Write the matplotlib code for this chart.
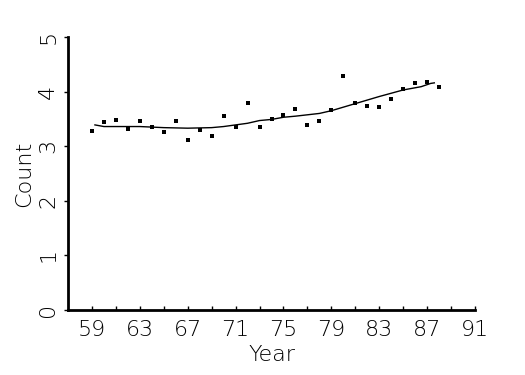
import matplotlib
matplotlib.use('Agg')
import matplotlib.pyplot as plt

# observed yearly counts
years = [59, 60, 61, 62, 63, 64, 65, 66, 67, 68, 69, 70, 71, 72, 73,
         74, 75, 76, 77, 78, 79, 80, 81, 82, 83, 84, 85, 86, 87, 88]
counts = [3.28, 3.44, 3.48, 3.31, 3.46, 3.35, 3.26, 3.46, 3.11, 3.30,
          3.19, 3.55, 3.35, 3.79, 3.35, 3.50, 3.57, 3.68, 3.39, 3.46,
          3.66, 4.29, 3.79, 3.74, 3.72, 3.86, 4.05, 4.16, 4.18, 4.08]

# smoothed trend line
fit_years = [59.25, 60, 63, 65, 67, 69, 70, 71, 72, 73, 74, 75, 76, 78,
             79, 81, 83, 85, 86.5, 87.3, 87.6]
fit_counts = [3.39, 3.36, 3.36, 3.34, 3.33, 3.34, 3.36, 3.39, 3.42, 3.47,
              3.49, 3.53, 3.55, 3.60, 3.65, 3.78, 3.91, 4.03, 4.09, 4.15, 4.16]

xticks = list(range(59, 92, 2))
xlabels = [str(t) if (t - 59) % 4 == 0 else '' for t in xticks]
yticks = [0, 1, 2, 3, 4, 5]

fig = plt.figure(figsize=(5.25, 3.75), dpi=100)
ax = fig.add_axes([68/525, 65/375, 407/525, 273/375])

ax.plot(fit_years, fit_counts, color='black', lw=1.0)
ax.plot(years, counts, 's', color='black', ms=2.6, mew=0)

ax.set_xlim(57, 91)
ax.set_ylim(0, 5)
ax.set_xticks(xticks)
ax.set_xticklabels(xlabels)
ax.set_yticks(yticks)
for s in ['top', 'right']:
    ax.spines[s].set_visible(False)
for s in ['left', 'bottom']:
    ax.spines[s].set_linewidth(2)

fs = 16
ax.tick_params(axis='x', direction='in', length=3, width=1, pad=7, labelsize=fs)
ax.tick_params(axis='y', direction='out', length=3, width=1, pad=4, labelsize=fs)
for lab in ax.get_yticklabels():
    lab.set_rotation(90)
    lab.set_va('center')
for lab in ax.get_xticklabels() + ax.get_yticklabels():
    lab.set_fontweight('light')

ax.set_xlabel('Year', fontsize=fs, fontweight='light', labelpad=4)
ax.set_ylabel('Count', fontsize=fs, fontweight='light', labelpad=3)

fig.savefig('out.png', dpi=100)
